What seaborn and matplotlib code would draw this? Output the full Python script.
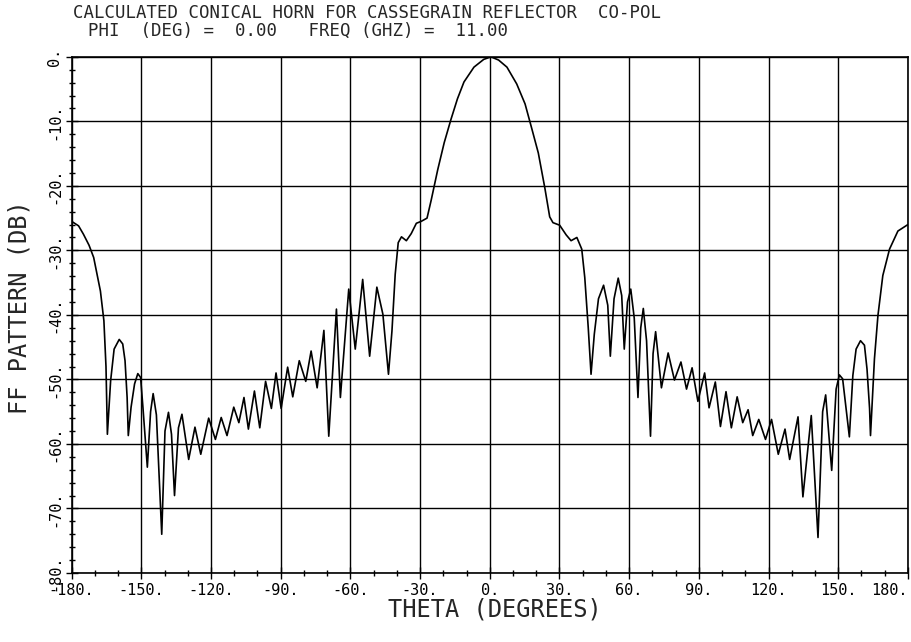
import numpy as np
import matplotlib
matplotlib.use("Agg")
import matplotlib.pyplot as plt
import seaborn as sns

# far-field pattern (theta in deg, pattern in dB)
theta = [
    -180, -177, -174.9, -172.5, -170.5, -167.6, -166.1, -165.2, -164.6, -163.2,
    -161.7, -159.5, -158.0, -157.0, -156.1, -155.6, -154.4, -152.9, -151.5, -150.3,
    -149.3, -147.4, -146.0, -144.9, -143.5, -141.2, -139.8, -138.3, -137.0, -135.7,
    -134.0, -132.5, -129.6, -126.9, -124.4, -121.0, -118.1, -115.6, -113.1, -110.2,
    -108.0, -105.8, -103.9, -101.3, -99.0, -96.5, -94.0, -92.0, -89.8, -87.0,
    -84.8, -82.0, -79.2, -76.9, -74.3, -71.4, -69.3, -66.0, -64.3, -60.7,
    -57.9, -54.7, -51.7, -48.6, -46.0, -43.6, -42.1, -40.7, -39.4, -38.0,
    -35.9, -33.8, -31.6, -29.5, -27.0, -25.2, -22.4, -19.6, -16.7, -13.9,
    -11.1, -6.8, -2.6, 0.5, 3.8, 7.4, 11.6, 15.2, 18.0, 20.9,
    23.7, 25.8, 27.2, 30.1, 32.9, 35.0, 37.5, 39.6, 40.9, 42.4,
    43.6, 45.0, 46.8, 49.0, 50.8, 51.9, 53.5, 55.3, 56.8, 57.9,
    59.3, 60.7, 62.2, 63.8, 65.0, 66.1, 67.5, 69.2, 70.3, 71.4,
    73.9, 76.8, 79.5, 82.3, 84.7, 87.1, 89.6, 92.5, 94.4, 97.1,
    99.3, 101.7, 104.0, 106.5, 108.9, 111.2, 113.2, 115.8, 118.7, 121.3,
    124.2, 127.1, 129.1, 132.7, 134.8, 138.4, 141.3, 143.3, 144.6, 147.2,
    149.1, 150.5, 151.9, 153.4, 154.8, 156.3, 157.7, 159.6, 161.3, 162.4,
    163.5, 163.9, 165.6, 167.1, 169.2, 172.1, 175.7, 180,
]
pattern_db = [
    -25.5, -26.2, -27.5, -29.2, -31.1, -36.3, -40.9, -48.0, -58.5, -50.2,
    -45.3, -43.8, -44.5, -47.1, -52.8, -58.7, -54.3, -50.7, -49.1, -49.7,
    -54.3, -63.6, -55.0, -52.2, -55.5, -74.0, -58.0, -55.1, -58.5, -68.0,
    -57.5, -55.4, -62.4, -57.4, -61.6, -56.0, -59.3, -55.9, -58.7, -54.3,
    -56.7, -52.8, -57.7, -51.8, -57.5, -50.3, -54.5, -49.0, -54.5, -48.1,
    -52.7, -47.1, -50.3, -45.6, -51.3, -42.4, -58.8, -39.1, -52.8, -36.0,
    -45.3, -34.5, -46.4, -35.7, -39.9, -49.2, -42.5, -33.7, -28.8, -27.9,
    -28.5, -27.4, -25.8, -25.5, -25.0, -22.2, -17.5, -13.3, -9.7, -6.5,
    -3.9, -1.6, -0.4, 0.0, -0.5, -1.6, -4.2, -7.3, -11.0, -14.9,
    -20.3, -24.8, -25.7, -26.1, -27.6, -28.5, -28.0, -29.8, -34.2, -42.0,
    -49.2, -43.0, -37.5, -35.4, -38.5, -46.4, -37.5, -34.3, -37.0, -45.3,
    -38.0, -36.0, -40.5, -52.8, -42.0, -39.0, -44.0, -58.8, -46.0, -42.6,
    -51.3, -45.9, -50.1, -47.3, -51.5, -48.2, -53.4, -49.0, -54.4, -50.4,
    -57.3, -51.9, -57.5, -52.7, -56.7, -54.7, -58.7, -56.2, -59.3, -56.2,
    -61.6, -57.7, -62.4, -55.8, -68.2, -55.6, -74.5, -55.0, -52.4, -64.1,
    -51.5, -49.3, -49.9, -54.5, -58.9, -49.4, -45.3, -44.0, -44.7, -48.4,
    -54.5, -58.7, -46.8, -40.1, -33.9, -29.8, -27.0, -26.0,
]

x_ticks = list(range(-180, 181, 30))
y_ticks = list(range(-80, 1, 10))
x_labels = [f"{v}." for v in x_ticks]
y_labels = [f"{v}." for v in y_ticks]

title_1 = "CALCULATED CONICAL HORN FOR CASSEGRAIN REFLECTOR  CO-POL"
title_2 = "PHI  (DEG) =  0.00   FREQ (GHZ) =  11.00"

sns.set_style("ticks")
plt.rcParams["font.family"] = ["DejaVu Sans Mono"]

fig = plt.figure(figsize=(9.11, 6.42), dpi=100)
ax = fig.add_axes([0.0786, 0.1075, 0.918, 0.804])

sns.lineplot(x=theta, y=pattern_db, color="black", linewidth=1.2,
             estimator=None, sort=False, ax=ax)

ax.set_xlim(-180, 180)
ax.set_ylim(-80, 0)
ax.set_xticks(x_ticks)
ax.set_xticklabels(x_labels, fontsize=11)
# the plotter pulled the last label in from the edge
ax.get_xticklabels()[-1].set_horizontalalignment("right")
ax.set_yticks(y_ticks)
ax.set_yticklabels(y_labels, fontsize=11, rotation=90, va="center")
ax.set_xticks(range(-180, 181, 10), minor=True)
ax.set_yticks(range(-80, 1, 2), minor=True)
ax.tick_params(which="major", direction="inout", length=8, width=1, pad=3, colors="black")
ax.tick_params(which="minor", direction="inout", length=5, width=1, colors="black")
ax.grid(True, which="major", color="black", linewidth=1.0)
for s in ax.spines.values():
    s.set_color("black")
    s.set_linewidth(1.2)

fig.text(73 / 911, 1 - 13 / 642, title_1, ha="left", va="center", fontsize=12.5)
fig.text(88 / 911, 1 - 31 / 642, title_2, ha="left", va="center", fontsize=12.5)
fig.text(495 / 911, 1 - 610 / 642, "THETA (DEGREES)", ha="center", va="center", fontsize=17)
fig.text(20 / 911, 1 - 307 / 642, "FF PATTERN (DB)", ha="center", va="center",
         rotation=90, fontsize=17)

fig.savefig("out.png", dpi=100)
